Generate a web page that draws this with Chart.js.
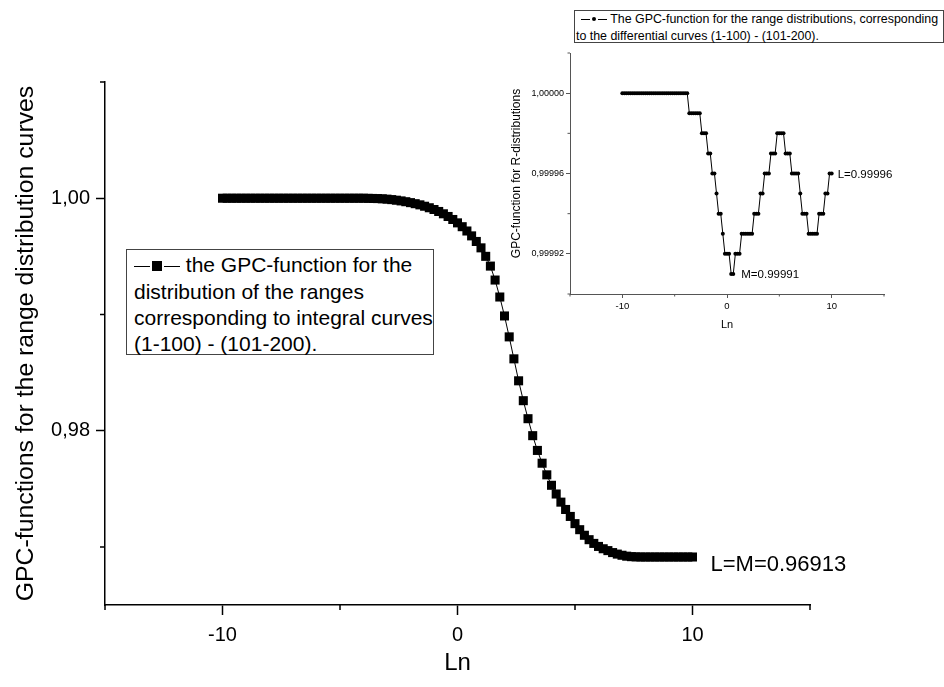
<!DOCTYPE html>
<html><head><meta charset="utf-8">
<script src="https://cdn.jsdelivr.net/npm/chart.js@4.4.1/dist/chart.umd.min.js"></script>
<style>
html,body{margin:0;padding:0;background:#fff;}
#wrap{position:relative;width:944px;height:687px;overflow:hidden;font-family:"Liberation Sans",Arial,sans-serif;color:#000;}
#main{position:absolute;left:0;top:0;}
#inset{position:absolute;left:500px;top:0;}
.legend{position:absolute;border:1px solid #444;background:#fff;box-sizing:border-box;white-space:nowrap;}
#legMain{left:126px;top:249px;width:308px;height:106px;font-size:21px;line-height:25.8px;padding:2px 0 0 7px;}
#legInset{left:574px;top:10px;width:370px;height:33px;font-size:12.4px;line-height:16px;padding:0 0 0 1px;}
.sym{display:inline-block;vertical-align:middle;position:relative;top:-2px;}
.sym i{display:inline-block;vertical-align:middle;background:#000;}
#legMain .ln{width:16px;height:1px;}
#legMain .sq{width:10px;height:10px;margin:0 2px;}
#legInset .sym{margin-left:5px;top:-1px;}
#legInset .ln{width:9px;height:1px;}
#legInset .dt{width:4px;height:4px;border-radius:50%;margin:0 2px;}
</style></head>
<body>
<div id="wrap">
<canvas id="main" width="944" height="687"></canvas>
<canvas id="inset" width="444" height="340"></canvas>
<div class="legend" id="legMain"><span class="sym"><i class="ln"></i><i class="sq"></i><i class="ln"></i></span> the GPC-function for the<br>distribution of the ranges<br>corresponding to integral curves<br>(1-100) - (101-200).</div>
<div class="legend" id="legInset"><span class="sym"><i class="ln"></i><i class="dt"></i><i class="ln"></i></span> The GPC-function for the range distributions, corresponding<br>to the differential curves (1-100) - (101-200).</div>
</div>
<script>
// ---------- DATA ----------
const lnValues = [
 -10.0,-9.8,-9.6,-9.4,-9.2,-9.0,-8.8,-8.6,-8.4,-8.2,
 -8.0,-7.8,-7.6,-7.4,-7.2,-7.0,-6.8,-6.6,-6.4,-6.2,
 -6.0,-5.8,-5.6,-5.4,-5.2,-5.0,-4.8,-4.6,-4.4,-4.2,
 -4.0,-3.8,-3.6,-3.4,-3.2,-3.0,-2.8,-2.6,-2.4,-2.2,
 -2.0,-1.8,-1.6,-1.4,-1.2,-1.0,-0.8,-0.6,-0.4,-0.2,
 0.0,0.2,0.4,0.6,0.8,1.0,1.2,1.4,1.6,1.8,
 2.0,2.2,2.4,2.6,2.8,3.0,3.2,3.4,3.6,3.8,
 4.0,4.2,4.4,4.6,4.8,5.0,5.2,5.4,5.6,5.8,
 6.0,6.2,6.4,6.6,6.8,7.0,7.2,7.4,7.6,7.8,
 8.0,8.2,8.4,8.6,8.8,9.0,9.2,9.4,9.6,9.8,
 10.0];

// main: GPC-function, integral curves
const integralGPC = [
 1.00000,1.00000,1.00000,1.00000,1.00000,1.00000,1.00000,1.00000,1.00000,1.00000,
 1.00000,1.00000,1.00000,1.00000,1.00000,1.00000,1.00000,1.00000,1.00000,1.00000,
 1.00000,1.00000,1.00000,1.00000,1.00000,1.00000,1.00000,1.00000,1.00000,1.00000,
 1.00000,0.99999,0.99998,0.99997,0.99995,0.99992,0.99988,0.99983,0.99977,0.99970,
 0.99962,0.99953,0.99943,0.99931,0.99918,0.99903,0.99886,0.99866,0.99843,0.99817,
 0.99788,0.99755,0.99718,0.99676,0.99628,0.99573,0.99500,0.99416,0.99296,0.99150,
 0.98987,0.98807,0.98618,0.98429,0.98258,0.98103,0.97957,0.97830,0.97720,0.97620,
 0.97530,0.97455,0.97385,0.97322,0.97262,0.97200,0.97148,0.97100,0.97062,0.97030,
 0.97004,0.96984,0.96968,0.96951,0.96938,0.96928,0.96920,0.96916,0.96914,0.96913,
 0.96913,0.96913,0.96913,0.96913,0.96913,0.96913,0.96913,0.96913,0.96913,0.96913,
 0.96913];

// inset: GPC-function, differential curves
const differentialGPC = [
 1.00000,1.00000,1.00000,1.00000,1.00000,1.00000,1.00000,1.00000,1.00000,1.00000,
 1.00000,1.00000,1.00000,1.00000,1.00000,1.00000,1.00000,1.00000,1.00000,1.00000,
 1.00000,1.00000,1.00000,1.00000,1.00000,1.00000,1.00000,1.00000,1.00000,1.00000,
 1.00000,1.00000,0.99999,0.99999,0.99999,0.99999,0.99999,0.99999,0.99998,0.99998,
 0.99998,0.99997,0.99997,0.99996,0.99996,0.99995,0.99994,0.99994,0.99993,0.99992,
 0.99992,0.99992,0.99991,0.99991,0.99992,0.99992,0.99992,0.99993,0.99993,0.99993,
 0.99993,0.99993,0.99993,0.99994,0.99994,0.99994,0.99995,0.99995,0.99996,0.99996,
 0.99996,0.99997,0.99997,0.99997,0.99998,0.99998,0.99998,0.99998,0.99997,0.99997,
 0.99997,0.99996,0.99996,0.99996,0.99996,0.99995,0.99994,0.99994,0.99994,0.99993,
 0.99993,0.99993,0.99993,0.99993,0.99994,0.99994,0.99994,0.99995,0.99995,0.99996,
 0.99996];

const mainXMajor = [-10, 0, 10];
const mainXMinor = [-15, -5, 5, 15];
const mainYMajor = [0.98, 1.00];
const mainYMinor = [0.97, 0.99, 1.01];
const insetXMajor = [-10, 0, 10];
const insetXMinor = [-15, -5, 5, 15];
const insetYMajor = [0.99992, 0.99996, 1.00000];
const insetYMinor = [0.99990, 0.99994, 0.99998, 1.00002];

// ---------- RENDER ----------
const FAM = "'Liberation Sans', Arial, sans-serif";
Chart.defaults.font.family = FAM;
Chart.defaults.color = '#000';

const minorTicks = {
  id: 'minorTicks',
  afterDraw(chart, args, o) {
    const ctx = chart.ctx, xs = chart.scales.x, ys = chart.scales.y;
    ctx.save();
    ctx.strokeStyle = o.color; ctx.lineWidth = o.width;
    ctx.beginPath();
    o.x.forEach(v => { const p = xs.getPixelForValue(v); ctx.moveTo(p, ys.bottom); ctx.lineTo(p, ys.bottom + o.len); });
    o.y.forEach(v => { const p = ys.getPixelForValue(v); ctx.moveTo(xs.left, p); ctx.lineTo(xs.left - o.len, p); });
    ctx.stroke();
    ctx.restore();
  }
};
const pointLabels = {
  id: 'pointLabels',
  afterDatasetsDraw(chart, args, o) {
    const ctx = chart.ctx, pts = chart.getDatasetMeta(0).data;
    ctx.save();
    ctx.fillStyle = '#000'; ctx.textBaseline = 'middle'; ctx.textAlign = 'left';
    o.items.forEach(it => {
      const p = pts[it.index];
      ctx.font = it.size + 'px ' + FAM;
      ctx.fillText(it.text, p.x + it.dx, p.y + it.dy);
    });
    ctx.restore();
  }
};

function axis(opts) {
  return {
    type: 'linear', min: opts.min, max: opts.max,
    afterFit(s) { if (opts.w) s.width = opts.w; if (opts.h) s.height = opts.h; },
    afterBuildTicks(s) { s.ticks = opts.major.map(v => ({value: v})); },
    grid: {display: true, drawOnChartArea: false, drawTicks: true, tickLength: opts.tl, tickColor: opts.color, tickWidth: opts.lw},
    border: {display: true, color: opts.color, width: opts.lw},
    ticks: {autoSkip: false, maxRotation: 0, minRotation: 0, padding: opts.pad, color: '#000',
            font: {size: opts.fs}, callback: opts.fmt},
    title: {display: true, text: opts.title, color: '#000', font: {size: opts.tfs}, padding: opts.tpad}
  };
}

new Chart(document.getElementById('main'), {
  type: 'line',
  data: {datasets: [{
    data: lnValues.map((x, i) => ({x: x, y: integralGPC[i]})),
    borderColor: '#000', borderWidth: 1, tension: 0, fill: false,
    pointStyle: 'rect', pointRadius: 6.4, pointHoverRadius: 6.4,
    pointBackgroundColor: '#000', pointBorderWidth: 0
  }]},
  options: {
    responsive: false, animation: false, devicePixelRatio: 1, events: [],
    layout: {padding: {left: 0, top: 82, right: 134, bottom: 0}},
    plugins: {
      legend: {display: false}, tooltip: {enabled: false},
      minorTicks: {x: mainXMinor, y: mainYMinor, len: 5, width: 1.5, color: '#000'},
      pointLabels: {items: [{index: 100, text: 'L=M=0.96913', dx: 18, dy: 8, size: 22}]}
    },
    scales: {
      x: axis({min: -15, max: 15, h: 82, major: mainXMajor, tl: 10, lw: 1.5, color: '#000', pad: 8, fs: 20,
               fmt: v => String(v), title: 'Ln', tfs: 24, tpad: {top: 0, bottom: 9}}),
      y: axis({min: 0.965, max: 1.01, w: 105, major: mainYMajor, tl: 9, lw: 1.5, color: '#000', pad: 6, fs: 20,
               fmt: v => v.toFixed(2).replace('.', ','), title: 'GPC-functions for the range distribution curves', tfs: 24.8, tpad: {top: 11, bottom: 0}})
    }
  },
  plugins: [minorTicks, pointLabels]
});

new Chart(document.getElementById('inset'), {
  type: 'line',
  data: {datasets: [{
    data: lnValues.map((x, i) => ({x: x, y: differentialGPC[i]})),
    borderColor: '#000', borderWidth: 1, tension: 0, fill: false,
    pointStyle: 'circle', pointRadius: 2, pointHoverRadius: 2,
    pointBackgroundColor: '#000', pointBorderWidth: 0
  }]},
  options: {
    responsive: false, animation: false, devicePixelRatio: 1, events: [],
    layout: {padding: {left: 0, top: 53, right: 60, bottom: 0}},
    plugins: {
      legend: {display: false}, tooltip: {enabled: false},
      minorTicks: {x: insetXMinor, y: insetYMinor, len: 2.5, width: 1, color: '#555'},
      pointLabels: {items: [
        {index: 53, text: 'M=0.99991', dx: 8, dy: 1, size: 11.5},
        {index: 100, text: 'L=0.99996', dx: 6, dy: 1, size: 11.5}
      ]}
    },
    scales: {
      x: axis({min: -15, max: 15, h: 46, major: insetXMajor, tl: 4, lw: 1, color: '#555', pad: 3, fs: 9.5,
               fmt: v => String(v), title: 'Ln', tfs: 11, tpad: {top: 0, bottom: 8}}),
      y: axis({min: 0.99990, max: 1.00002, w: 70, major: insetYMajor, tl: 4, lw: 1, color: '#555', pad: 2, fs: 9,
               fmt: v => v.toFixed(5).replace('.', ','), title: 'GPC-function for R-distributions', tfs: 12, tpad: {top: 9, bottom: 0}})
    }
  },
  plugins: [minorTicks, pointLabels]
});
</script>
</body></html>
